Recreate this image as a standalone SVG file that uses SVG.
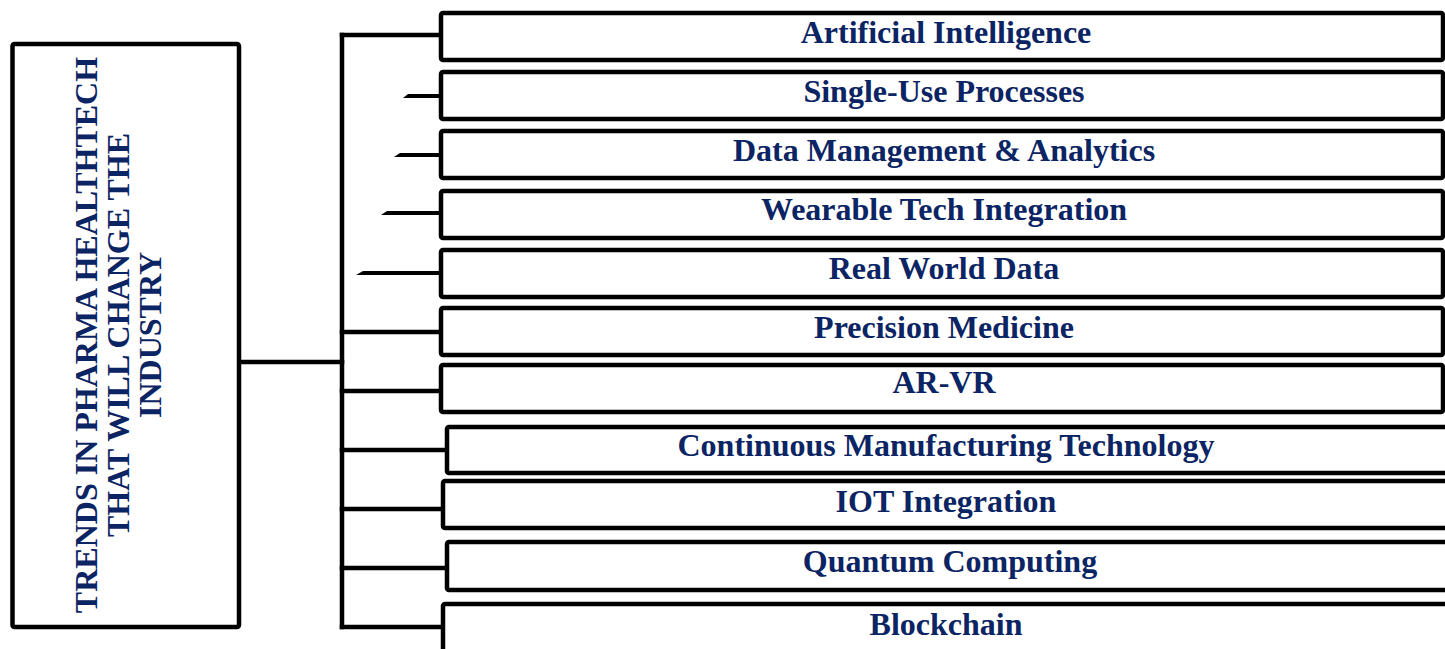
<svg xmlns="http://www.w3.org/2000/svg" width="1445" height="649" viewBox="0 0 1445 649">
  <style>
    .box { fill: #ffffff; stroke: #000000; stroke-width: 4.5; }
    .wire { fill: none; stroke: #000000; stroke-width: 4.5; stroke-linecap: square; }
    .stub { fill: #000000; stroke: none; }
    .label { font-family: "Liberation Serif", "Times New Roman", serif; font-weight: bold; font-size: 32px; fill: #0b2463; text-anchor: middle; }
  </style>
  <rect width="1445" height="649" fill="#ffffff"/>

  <!-- connectors -->
  <g id="connectors">
    <path class="wire" d="M239 362 H342"/>
    <path class="wire" d="M342 35 V627"/>
    <path class="wire" d="M342 35 H441"/>
    <path class="wire" d="M342 332 H441"/>
    <path class="wire" d="M342 391 H441"/>
    <path class="wire" d="M342 450 H447"/>
    <path class="wire" d="M342 509 H443"/>
    <path class="wire" d="M342 568 H447"/>
    <path class="wire" d="M342 627 H443"/>
    <!-- short detached stubs with tapered tails -->
    <polygon class="stub" points="403,98 408,94 441,94 441,98"/>
    <polygon class="stub" points="394,157 400,153 441,153 441,157"/>
    <polygon class="stub" points="381,215 387,211 441,211 441,215"/>
    <polygon class="stub" points="356,275 363,271 441,271 441,275"/>
  </g>

  <!-- central topic -->
  <g id="topic">
    <rect class="box" x="12.5" y="44" width="226.5" height="583" rx="2"/>
    <g transform="translate(0 335) rotate(-90)">
      <text class="label" x="0" y="97">TRENDS IN PHARMA HEALTHTECH</text>
      <text class="label" x="0" y="129">THAT WILL CHANGE THE</text>
      <text class="label" x="0" y="161">INDUSTRY</text>
    </g>
  </g>

  <g id="ai">
    <rect class="box" x="441" y="13" width="1002" height="47" rx="2"/>
    <text class="label" x="946" y="43">Artificial Intelligence</text>
  </g>
  <g id="single-use">
    <rect class="box" x="441" y="72" width="1002" height="47" rx="2"/>
    <text class="label" x="944" y="102">Single-Use Processes</text>
  </g>
  <g id="data-management">
    <rect class="box" x="441" y="131" width="1002" height="47" rx="2"/>
    <text class="label" x="944" y="161">Data Management &amp; Analytics</text>
  </g>
  <g id="wearable">
    <rect class="box" x="441" y="191" width="1002" height="47" rx="2"/>
    <text class="label" x="944" y="220">Wearable Tech Integration</text>
  </g>
  <g id="real-world-data">
    <rect class="box" x="441" y="250" width="1002" height="47" rx="2"/>
    <text class="label" x="944" y="279">Real World Data</text>
  </g>
  <g id="precision-medicine">
    <rect class="box" x="441" y="308" width="1002" height="47" rx="2"/>
    <text class="label" x="944" y="338">Precision Medicine</text>
  </g>
  <g id="ar-vr">
    <rect class="box" x="441" y="365" width="1002" height="47" rx="2"/>
    <text class="label" x="944" y="393">AR-VR</text>
  </g>
  <g id="continuous-manufacturing">
    <rect class="box" x="447" y="427" width="1010" height="46" rx="2"/>
    <text class="label" x="946" y="456">Continuous Manufacturing Technology</text>
  </g>
  <g id="iot">
    <rect class="box" x="443" y="481" width="1010" height="47" rx="2"/>
    <text class="label" x="946" y="512">IOT Integration</text>
  </g>
  <g id="quantum">
    <rect class="box" x="447" y="542" width="1010" height="48" rx="2"/>
    <text class="label" x="950" y="572">Quantum Computing</text>
  </g>
  <g id="blockchain">
    <rect class="box" x="443" y="604" width="1010" height="60" rx="2"/>
    <text class="label" x="946" y="635">Blockchain</text>
  </g>
</svg>
